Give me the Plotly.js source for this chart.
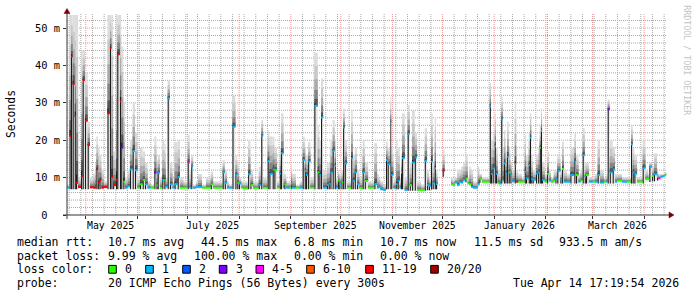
<!DOCTYPE html>
<html><head><meta charset="utf-8">
<script src="https://cdn.plot.ly/plotly-3.0.1.min.js"></script>
<style>html,body{margin:0;padding:0;background:#fff;}#chart{width:697px;height:297px;}</style>
</head><body><div id="chart"></div>
<script>
// ---- data ----
const dates = [
'2025-04-20 00:00','2025-04-21 06:00','2025-04-22 03:00','2025-04-23 03:00','2025-04-24 09:00','2025-04-25 03:00','2025-04-26 09:00','2025-04-28 03:00','2025-04-29 03:00','2025-04-30 12:00',
'2025-05-02 03:00','2025-05-03 12:00','2025-05-05 09:00','2025-05-06 12:00','2025-05-07 09:00','2025-05-08 09:00','2025-05-09 06:00','2025-05-10 09:00','2025-05-11 21:00','2025-05-14 00:00',
'2025-05-15 12:00','2025-05-16 09:00','2025-05-17 09:00','2025-05-19 03:00','2025-05-19 21:00','2025-05-21 12:00','2025-05-22 06:00','2025-05-23 12:00','2025-05-24 12:00','2025-05-26 03:00',
'2025-05-27 12:00','2025-05-29 03:00','2025-05-30 12:00','2025-06-01 00:00','2025-06-02 12:00','2025-06-04 03:00','2025-06-05 12:00','2025-06-07 03:00','2025-06-08 21:00','2025-06-11 03:00',
'2025-06-12 09:00','2025-06-13 03:00','2025-06-14 12:00','2025-06-15 21:00','2025-06-17 03:00','2025-06-17 21:00','2025-06-19 03:00','2025-06-20 12:00','2025-06-22 00:00','2025-06-23 06:00',
'2025-06-25 03:00','2025-06-26 12:00','2025-06-28 15:00','2025-07-01 03:00','2025-07-02 06:00','2025-07-03 06:00','2025-07-04 09:00','2025-07-06 03:00','2025-07-07 09:00','2025-07-09 18:00',
'2025-07-12 03:00','2025-07-15 00:00','2025-07-16 09:00','2025-07-19 09:00','2025-07-22 03:00','2025-07-23 09:00','2025-07-24 18:00','2025-07-25 21:00','2025-07-28 00:00','2025-07-29 18:00',
'2025-07-30 21:00','2025-07-31 21:00','2025-08-02 06:00','2025-08-03 09:00','2025-08-06 09:00','2025-08-07 18:00','2025-08-09 09:00','2025-08-11 09:00','2025-08-12 18:00','2025-08-14 06:00',
'2025-08-15 09:00','2025-08-18 03:00','2025-08-19 03:00','2025-08-21 03:00','2025-08-22 03:00','2025-08-23 18:00','2025-08-25 09:00','2025-08-26 03:00','2025-08-27 15:00','2025-08-28 03:00',
'2025-08-29 06:00','2025-08-31 12:00','2025-09-01 06:00','2025-09-01 18:00','2025-09-04 03:00','2025-09-06 09:00','2025-09-08 03:00','2025-09-09 09:00','2025-09-10 03:00','2025-09-11 09:00',
'2025-09-12 18:00','2025-09-15 03:00','2025-09-17 03:00','2025-09-18 03:00','2025-09-19 03:00','2025-09-20 09:00','2025-09-22 18:00','2025-09-23 18:00','2025-09-24 18:00','2025-09-26 03:00',
'2025-09-27 09:00','2025-09-28 03:00','2025-09-29 09:00','2025-09-30 03:00','2025-10-01 09:00','2025-10-02 09:00','2025-10-03 09:00','2025-10-04 18:00','2025-10-05 21:00','2025-10-07 06:00',
'2025-10-08 03:00','2025-10-09 09:00','2025-10-10 18:00','2025-10-12 03:00','2025-10-14 03:00','2025-10-15 09:00','2025-10-17 09:00','2025-10-19 18:00','2025-10-21 03:00','2025-10-22 18:00',
'2025-10-23 18:00','2025-10-24 18:00','2025-10-26 09:00','2025-10-28 03:00','2025-10-29 03:00','2025-10-30 18:00','2025-10-31 06:00','2025-11-01 12:00','2025-11-02 03:00','2025-11-03 06:00',
'2025-11-04 03:00','2025-11-05 09:00','2025-11-06 03:00','2025-11-06 18:00','2025-11-08 09:00','2025-11-10 03:00','2025-11-11 09:00','2025-11-12 18:00','2025-11-14 09:00','2025-11-15 18:00',
'2025-11-18 03:00','2025-11-20 09:00','2025-11-21 18:00','2025-11-22 21:00','2025-11-24 03:00','2025-11-25 03:00','2025-11-26 09:00','2025-11-27 03:00','2025-11-28 00:00','2025-12-01 03:00',
'2025-12-02 06:00','2025-12-06 03:00','2025-12-07 03:00','2025-12-08 09:00','2025-12-09 18:00','2025-12-11 03:00','2025-12-12 06:00','2025-12-13 09:00','2025-12-14 18:00','2025-12-16 03:00',
'2025-12-17 03:00','2025-12-18 03:00','2025-12-19 09:00','2025-12-20 12:00','2025-12-22 03:00','2025-12-23 03:00','2025-12-24 18:00','2025-12-27 03:00','2025-12-29 09:00','2025-12-30 03:00',
'2025-12-31 03:00','2026-01-01 09:00','2026-01-02 03:00','2026-01-03 03:00','2026-01-04 03:00','2026-01-05 06:00','2026-01-06 03:00','2026-01-06 21:00','2026-01-07 18:00','2026-01-08 18:00',
'2026-01-09 18:00','2026-01-10 18:00','2026-01-11 18:00','2026-01-13 09:00','2026-01-14 06:00','2026-01-15 09:00','2026-01-17 18:00','2026-01-19 09:00','2026-01-20 03:00','2026-01-21 18:00',
'2026-01-22 12:00','2026-01-23 06:00','2026-01-24 03:00','2026-01-26 03:00','2026-01-27 09:00','2026-01-28 09:00','2026-01-29 03:00','2026-01-29 18:00','2026-01-31 09:00','2026-02-01 18:00',
'2026-02-02 21:00','2026-02-04 03:00','2026-02-05 18:00','2026-02-06 18:00','2026-02-07 21:00','2026-02-09 18:00','2026-02-10 18:00','2026-02-11 21:00','2026-02-13 18:00','2026-02-15 18:00',
'2026-02-18 03:00','2026-02-19 03:00','2026-02-20 15:00','2026-02-21 18:00','2026-02-23 03:00','2026-02-24 09:00','2026-02-25 03:00','2026-02-26 21:00','2026-03-01 09:00','2026-03-02 12:00',
'2026-03-04 03:00','2026-03-05 12:00','2026-03-07 21:00','2026-03-09 09:00','2026-03-10 03:00','2026-03-11 09:00','2026-03-13 03:00','2026-03-14 12:00','2026-03-15 18:00','2026-03-18 18:00',
'2026-03-21 18:00','2026-03-24 03:00','2026-03-25 03:00','2026-03-26 03:00','2026-03-27 18:00','2026-03-30 03:00','2026-03-31 03:00','2026-04-01 18:00','2026-04-03 09:00','2026-04-04 03:00',
'2026-04-05 18:00','2026-04-06 21:00','2026-04-08 18:00','2026-04-09 09:00','2026-04-10 18:00','2026-04-12 03:00','2026-04-13 09:00'
];
const dataEnd = '2026-04-14 06:00';
const medianMs = [
7.3,21.1,42.4,35,26.3,8.6,7.5,10.2,36.1,25.2,
18.7,7.4,7.3,7.3,12.2,8.6,9.3,7.3,7.5,27.2,
44.6,10.2,8,9.4,43,30.4,18,8.9,7.3,7.7,
12.2,17.1,12,7.3,8.2,9.4,8.2,7.3,7.3,11.3,
8,11.3,7.3,9.4,9.4,7.6,31.2,8.2,7.3,8.3,
10.2,7.3,7.3,14,7.3,13,7.3,7.5,7.5,7.3,
7.3,8.2,7.3,7.3,11.4,8.6,7.3,7.3,23.6,10.7,
8.6,8.4,7.3,7.1,10.9,8,7.2,7.2,8,21.1,
7.3,14.5,11,12.2,12,7.3,11.1,16.5,7.3,8.2,
7.3,7.3,8.4,7.3,7.3,7.3,14.7,11.8,10.7,14.3,
7.3,29.2,11.4,10.7,26.1,7.3,8,8.4,11.4,17.2,
13.2,7.3,9.2,8.3,8.8,23.4,13.8,7.3,7.3,15.2,
9.2,11.4,8.3,7.2,11.4,9.1,7.3,7.3,8.3,7.3,
7.5,6.9,6.7,14.7,13.6,24.8,10.7,7.3,7.2,8.3,
9.2,7.3,11.4,15.2,6.7,21.7,8,14,15.4,6.7,
6.7,14.5,8,7.8,14.3,8.5,12.5,8.3,null,11.8,
null,8.2,8,8.7,8,8.8,8.7,9.4,9.8,8.5,
8.2,7.5,7.3,7.3,8.2,9.6,8.9,8.9,29,11,
12.5,18.4,11,8.6,8.4,25.6,9.2,13.8,11.2,15.6,
11.4,10.7,9,13.6,8.9,8.9,8.9,11.6,9.8,13.4,
20.7,9.6,9.4,11.1,11.4,18,22.5,9.4,8.9,11,
9.2,8.9,9.2,9.6,11.8,9.4,12.3,8.9,8.9,10.7,
14.3,10.7,8.9,9.2,16,10.2,10.7,8.9,8.9,8.9,
10.7,8.7,8.9,8.9,28.3,11.4,12.2,8.9,9.2,8.9,
8.9,18.9,11.4,11,8.9,8.9,12.5,9.6,9.6,12.9,
10.4,10.9,10.2,9.8,10.2,10.4,10.7
];
const maxMs = [
8,53.5,53.5,53.5,53.5,53.5,10,44,44,38,
25,10,11,14,21,18,16,12,9,53.5,
53.5,53.5,17,53.5,53.5,53.5,45,30,10,12,
20,30,22,10,18,17,14,9,8,21,
14,16,10,20,19,10,36,14,9,19.5,
20,10,9,21.4,12,16,8,9,11,8,
10,11.6,9,9,14.7,12,9,8,32,16,
14,10,9,9,20,12,9,9,12.9,25.4,
10,22.7,21,20.9,18,9,18,27.2,12,11,
9,9,13.4,11,8,9,20.9,18,16,19.5,
10,43.4,24,20,36.5,12,14,14,20,25.4,
20,10,12,11,12,28.5,20,9,9,28,
16,18,12,10,20,14,9,9,19.2,11,
10,9,8,19.6,18,31.6,18,9,10,20,
18,10,16,27.2,10,29.4,14,28,22,9,
8,23.2,12,10,27.2,14,26.3,12,null,17.4,
null,10,9.5,10,12,12,13,14,16,10,
13,12,9,9,12.9,11,10,10,35.2,20,
22,27.2,18,12,12,31.6,18,22.7,17,25,
18,14,12,29.9,12,11,10,21.4,16,22,
27.2,16,12,16,18,24,28.5,14,11,17,
12,10,12,12,16,12,19.6,12,11,18,
21.8,16,11,12,23.2,14,14,10,10,11,
20,12,10,11,30.9,20,18,11,11,10,
10,24,18,16,10,10,20,12,11,14,
13,16.5,12,11,11,11,11.5
];
const minMs = [
6.9,6.9,6.9,6.9,6.9,6.9,6.9,6.9,6.9,6.9,
6.9,6.9,6.9,6.9,6.9,6.9,6.9,6.9,6.9,6.9,
6.9,6.9,6.9,6.9,6.9,6.9,6.9,6.9,6.9,6.9,
6.9,6.9,6.9,6.9,6.9,6.9,6.9,6.9,6.9,6.9,
6.9,6.9,6.9,6.9,6.9,6.9,6.9,6.9,6.9,6.9,
6.9,6.9,6.9,6.9,6.9,6.9,6.9,6.9,6.9,6.9,
6.9,6.9,6.9,6.9,6.9,6.9,6.9,6.9,6.9,6.9,
6.9,6.9,6.9,6.7,6.9,6.9,6.8,6.8,6.9,6.9,
6.9,6.9,6.9,6.9,6.9,6.9,6.9,6.9,6.9,6.9,
6.9,6.9,6.9,6.9,6.9,6.9,6.9,6.9,6.9,6.9,
6.9,6.9,6.9,6.9,6.9,6.9,6.9,6.9,6.9,6.9,
6.9,6.9,6.9,6.9,6.9,6.9,6.9,6.9,6.9,6.9,
6.9,6.9,6.9,6.8,6.9,6.9,6.9,6.9,6.9,6.9,
6.9,6.5,6.3,6.9,6.9,6.9,6.9,6.9,6.8,6.9,
6.9,6.9,6.9,6.9,6.3,6.5,6.5,6.5,6.5,6.3,
6.3,6.5,6.6,6.6,6.8,6.9,6.9,6.9,null,10.2,
null,7.9,7.7,8.1,7.7,8.2,8.2,8.6,8.8,8,
7.6,7.1,6.9,6.9,7.5,8.6,8.4,8.4,8.4,8.4,
8.4,8.4,8.4,8.2,8,8.4,8.4,8.4,8.4,8.4,
8.4,8.4,8.4,8.4,8.4,8.4,8.4,8.4,8.4,8.4,
8.4,8.4,8.4,8.4,8.4,8.4,8.4,8.4,8.4,8.4,
8.4,8.4,8.4,8.4,8.4,8.4,8.4,8.4,8.4,8.4,
8.4,8.4,8.4,8.4,8.4,8.4,8.4,8.4,8.4,8.4,
8.4,8.3,8.4,8.4,8.4,8.4,8.4,8.4,8.4,8.4,
8.4,8.4,8.4,8.4,8.4,8.4,8.4,8.8,8.8,8.8,
9,9,9.2,9.2,9.4,9.6,9.8
];
const lossIdx = [
1,6,6,6,6,6,6,6,6,6,
6,6,6,6,6,6,6,6,6,6,
6,6,6,6,6,6,3,0,1,1,
1,1,1,0,0,0,1,1,0,3,
0,1,0,1,0,1,1,1,1,1,
1,0,0,4,1,1,1,1,1,0,
0,0,0,0,1,1,1,1,1,1,
0,1,0,0,1,0,0,0,1,1,
0,1,1,1,0,0,1,1,1,0,
1,0,0,1,0,1,1,1,1,1,
0,1,0,1,1,1,1,1,1,1,
1,1,0,1,0,1,1,0,0,1,
1,1,1,0,1,0,0,0,1,1,
1,1,1,1,1,1,1,0,1,1,
1,1,0,1,1,1,0,1,1,0,
0,1,1,1,1,1,1,1,null,6,
null,0,0,1,1,1,1,1,0,0,
0,1,1,1,1,0,0,0,1,1,
1,1,1,0,1,1,1,1,1,1,
0,1,1,5,6,0,0,1,1,1,
1,1,1,1,1,0,1,1,0,0,
1,0,0,1,1,1,0,1,1,1,
1,0,1,0,1,1,0,1,0,1,
1,1,0,1,3,1,1,1,0,1,
0,1,1,1,0,0,1,0,0,1,
0,1,0,4,1,1,0
];
const lossLabels = ['0','1','2','3','4-5','6-10','11-19','20/20'];
const lossColors = ['#26ff00','#00b8ff','#0059ff','#7e00ff','#ff00ff','#ff5500','#ff0000','#a10000'];
const xLabelText = ['May 2025','July 2025','September 2025','November 2025','January 2026','March 2026'];
const xLabelDates = ['2025-05-16','2025-07-16','2025-09-16','2025-11-16','2026-01-16','2026-03-16'];
const yTickVals = [0,10,20,30,40,50];
const yTickText = ['0\u00a0\u00a0','10 m','20 m','30 m','40 m','50 m'];
const rttStats = ['10.7 ms avg','44.5 ms max','6.8 ms min','10.7 ms now','11.5 ms sd','933.5 m am/s'];
const lossStats = ['9.99 % avg','100.00 % max','0.00 % min','0.00 % now'];
const probeText = '20 ICMP Echo Pings (56 Bytes) every 300s';
const stampText = 'Tue Apr 14 17:19:54 2026';
const rangeStart = '2025-04-19 17:19:54', rangeEnd = '2026-04-14 17:19:54';

// ---- geometry helpers ----
const L = 67, T = 14, PW = 600, PH = 201, YMAX = 53.75;
const px = x => (x - L) / PW;
const py = y => (T + PH - y) / PH;
const toMs = s => Date.parse(s.replace(' ', 'T') + 'Z');
const fmt = ms => new Date(ms).toISOString().slice(0, 19).replace('T', ' ');
const DAY = 86400000;

const n = dates.length;
const widths = dates.map((d, i) => toMs(i + 1 < n ? dates[i + 1] : dataEnd) - toMs(d));
const idx = [];
for (let i = 0; i < n; i++) if (medianMs[i] !== null) idx.push(i);
const pick = arr => idx.map(i => arr[i]);

const traces = [];
// faint smoke below the median (between min and median)
traces.push({
  type: 'bar', x: pick(dates), base: pick(minMs),
  y: idx.map(i => medianMs[i] - minMs[i]),
  width: pick(widths), offset: 0,
  marker: {color: '#e6e6e6', line: {width: 0}}, hoverinfo: 'skip'
});
// smoke above the median: gradient from dark (near median) to light (max)
const levels = [[1.0, '#dcdcdc'], [0.75, '#c8c8c8'], [0.5, '#ababab'], [0.3, '#858585'], [0.13, '#565656']];
levels.forEach(([f, c]) => {
  traces.push({
    type: 'bar', x: pick(dates), base: pick(medianMs),
    y: idx.map(i => f * (maxMs[i] - medianMs[i])),
    width: pick(widths), offset: 0,
    marker: {color: c, line: {width: 0}}, hoverinfo: 'skip'
  });
});
// dark core line from min up to the median
traces.push({
  type: 'bar', x: pick(dates), base: pick(minMs),
  y: idx.map(i => (medianMs[i] - minMs[i] > 0.9) ? medianMs[i] + 0.05 * (maxMs[i] - medianMs[i]) - minMs[i] : 0),
  width: idx.map(i => Math.min(widths[i], 0.65 * DAY)), offset: 0,
  marker: {color: '#1c1c1c', line: {width: 0}}, hoverinfo: 'skip'
});
// median coloured by loss
traces.push({
  type: 'bar', x: pick(dates), base: idx.map(i => medianMs[i] - 0.27),
  y: idx.map(() => 0.54),
  width: pick(widths), offset: 0,
  marker: {color: idx.map(i => lossColors[lossIdx[i]]), line: {width: 0}}, hoverinfo: 'skip'
});

const mono = 'DejaVu Sans Mono, monospace';
const ann = [];
const txt = (x, y, t, opt = {}) => ann.push(Object.assign({
  xref: 'paper', yref: 'paper', x: px(x), y: py(y), text: t, showarrow: false,
  xanchor: 'left', yanchor: 'middle', borderpad: 0,
  font: {family: mono, size: 11.5, color: '#000'}
}, opt));

xLabelText.forEach((t, i) => ann.push({
  xref: 'x', yref: 'paper', x: xLabelDates[i], y: py(225), text: t, showarrow: false,
  xanchor: 'center', yanchor: 'middle', borderpad: 0, font: {family: mono, size: 9.8, color: '#000'}
}));
txt(10.5, 114.5, 'Seconds', {xanchor: 'center', textangle: -90, font: {family: mono, size: 11.4, color: '#000'}});
txt(686.7, 60, 'RRDTOOL / TOBI OETIKER', {xanchor: 'center', textangle: 90, font: {family: mono, size: 8.3, color: '#c4c4c4'}});

const rttX = [107.3, 200, 293.3, 379.3, 472.7, 558.3];
txt(16, 241.5, 'median rtt:');
rttStats.forEach((t, i) => txt(rttX[i], 241.5, t));
const lossX = [107.3, 193.3, 293.3, 379.3];
txt(16, 255.5, 'packet loss:');
lossStats.forEach((t, i) => txt(lossX[i], 255.5, t));
txt(16, 269.2, 'loss color:');
const boxX = [108.7, 145.7, 182.7, 219.3, 256, 306.7, 365.7, 430.7];
const shapes = [];
lossLabels.forEach((t, i) => {
  shapes.push({type: 'rect', xref: 'paper', yref: 'paper', x0: px(boxX[i]), x1: px(boxX[i] + 7.6),
    y0: py(273.2), y1: py(265.4), fillcolor: lossColors[i], line: {color: '#000', width: 1}});
  txt(boxX[i] + 15.3, 269.2, t);
});
txt(16, 283, 'probe:');
txt(107.3, 283, probeText);
txt(680, 283, stampText, {xanchor: 'right'});

// grid (drawn below the smoke, rrdtool style dotted lines)
const majorGrid = '#eb9a9a', minorGrid = '#a9a9a9', dots = '1px,1px';
const monthStarts = [];
for (let y = 2025, m = 4; y < 2026 || m <= 3; m++) {
  if (m > 11) { m = 0; y++; }
  monthStarts.push(Date.UTC(y, m, 1));
  if (y === 2026 && m === 3) break;
}
for (let t = toMs('2025-04-21 00:00'); t < toMs(rangeEnd); t += 7 * DAY) {
  if (monthStarts.includes(t)) continue;
  shapes.push({type: 'line', layer: 'below', xref: 'x', yref: 'paper', x0: fmt(t), x1: fmt(t), y0: 0, y1: 1,
    line: {color: minorGrid, width: 1, dash: dots}});
}
for (let v = 2; v < YMAX; v += 2) {
  if (v % 10 === 0) continue;
  shapes.push({type: 'line', layer: 'below', xref: 'paper', yref: 'y', x0: 0, x1: 1, y0: v, y1: v,
    line: {color: minorGrid, width: 1, dash: dots}});
}
monthStarts.forEach(t => shapes.push({type: 'line', layer: 'below', xref: 'x', yref: 'paper', x0: fmt(t), x1: fmt(t), y0: 0, y1: 1,
  line: {color: majorGrid, width: 1, dash: dots}}));
for (let v = 10; v < YMAX; v += 10) {
  shapes.push({type: 'line', layer: 'below', xref: 'paper', yref: 'y', x0: 0, x1: 1, y0: v, y1: v,
    line: {color: majorGrid, width: 1, dash: dots}});
}

// axis lines and arrows
const axc = '#333', arc = '#7a0000';
shapes.push({type: 'line', xref: 'paper', yref: 'paper', x0: px(67), x1: px(67), y0: py(219), y1: py(11), line: {color: axc, width: 1}});
shapes.push({type: 'line', xref: 'paper', yref: 'paper', x0: px(63), x1: px(670), y0: py(215), y1: py(215), line: {color: axc, width: 1}});
shapes.push({type: 'path', xref: 'paper', yref: 'paper',
  path: `M ${px(64)} ${py(13.5)} L ${px(70)} ${py(13.5)} L ${px(67)} ${py(8.5)} Z`, fillcolor: arc, line: {color: arc, width: 0.5}});
shapes.push({type: 'path', xref: 'paper', yref: 'paper',
  path: `M ${px(669)} ${py(212)} L ${px(669)} ${py(218)} L ${px(674)} ${py(215)} Z`, fillcolor: arc, line: {color: arc, width: 0.5}});

const layout = {
  width: 697, height: 297,
  margin: {l: L, r: 697 - L - PW, t: T, b: 297 - T - PH, pad: 0},
  paper_bgcolor: '#ffffff', plot_bgcolor: '#ffffff',
  showlegend: false, barmode: 'overlay',
  xaxis: {
    type: 'date', range: [rangeStart, rangeEnd], showticklabels: false,
    tick0: '2025-05-01', dtick: 'M1', showgrid: false,
    ticks: 'outside', ticklen: 3, tickcolor: axc, showline: false, zeroline: false
  },
  yaxis: {
    range: [0, YMAX], tickmode: 'array', tickvals: yTickVals, ticktext: yTickText,
    showgrid: false, ticks: 'outside', ticklen: 3, tickcolor: axc, showline: false, zeroline: false,
    ticklabelstandoff: 1,
    tickfont: {family: mono, size: 10.4, color: '#000'}
  },
  annotations: ann, shapes: shapes
};
Plotly.newPlot('chart', traces, layout, {staticPlot: true, displayModeBar: false});
</script>
</body></html>
